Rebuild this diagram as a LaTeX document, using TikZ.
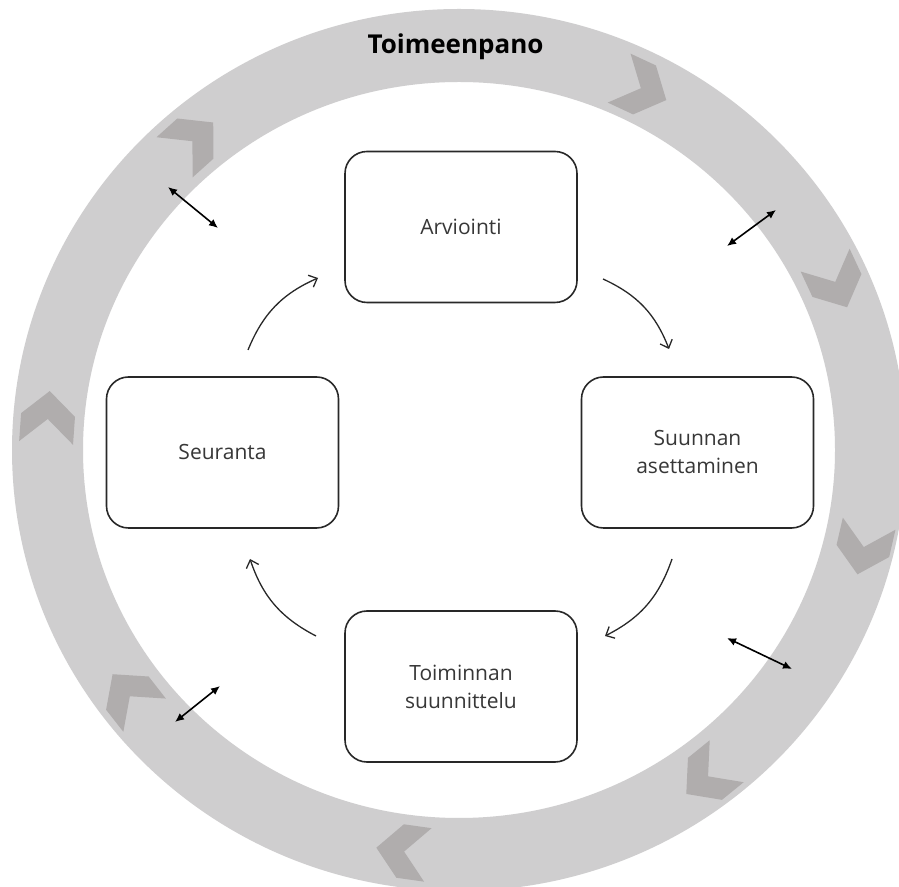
\documentclass[tikz,border=0pt]{standalone}
\usepackage{fontspec}
\setmainfont{Open Sans}
\usetikzlibrary{arrows.meta}
\definecolor{ringgray}{RGB}{207,206,207}
\definecolor{chevgray}{RGB}{176,173,173}
\definecolor{boxline}{RGB}{40,40,40}
\definecolor{txtgray}{RGB}{55,55,55}
\tikzset{
  stage/.style={draw=boxline, line width=1.6pt, rounded corners=22pt,
    minimum width=232pt, minimum height=151pt, align=center, text=txtgray,
    font=\fontsize{21}{28}\selectfont, fill=white},
  flow/.style={line width=1.3pt, draw=boxline,
    -{Straight Barb[length=7pt,width=13pt]}, bend left=22},
  link/.style={line width=1.6pt, draw=black,
    {Latex[length=9pt,width=8pt]}-{Latex[length=9pt,width=8pt]}},
  chevron/.pic={\fill[chevgray] (26,0) -- (2,27) -- (-26,27) -- (-2,0)
    -- (-26,-27) -- (2,-27) -- cycle;}
}
\begin{document}
\begin{tikzpicture}[x=1pt,y=1pt]
\useasboundingbox (0,0) rectangle (899,886);
\fill[white] (0,0) rectangle (899,886);
% ring
\begin{scope}
\clip (0,0) rectangle (899,886);
\fill[ringgray, even odd rule]
  (459,436) ellipse [x radius=447pt, y radius=441pt]
  (459,436) ellipse [x radius=376pt, y radius=368pt];
\pic[rotate=-25] at (642.7,796.9) {chevron};
\pic[rotate=-65] at (836.1,602.3) {chevron};
\pic[rotate=-103] at (863.3,337.0) {chevron};
\pic[rotate=-141] at (706.5,108.4) {chevron};
\pic[rotate=172] at (402.1,34.7) {chevron};
\pic[rotate=128] at (128.6,191.3) {chevron};
\pic[rotate=86] at (47.9,469) {chevron};
\pic[rotate=42] at (193.9,746.1) {chevron};
\end{scope}
\node[anchor=base, font=\bfseries\fontsize{26}{30}\selectfont] (title) at (455.5,832) {Toimeenpano};
% stages
\node[stage] (arv) at (461,659) {Arviointi};
\node[stage] (suu) at (697.5,433.5) {Suunnan\\asettaminen};
\node[stage] (seu) at (222.5,433.5) {Seuranta};
\node[stage] (toi) at (461,199.5) {Toiminnan\\suunnittelu};
% flow arrows
\coordinate (f1s) at (603,607); \coordinate (f1e) at (669,537);
\coordinate (f2s) at (672,327); \coordinate (f2e) at (605,250);
\coordinate (f3s) at (316,250); \coordinate (f3e) at (250,327);
\coordinate (f4s) at (248,536); \coordinate (f4e) at (318,608);
\draw[flow] (f1s) to (f1e);
\draw[flow] (f2s) to (f2e);
\draw[flow] (f3s) to (f3e);
\draw[flow] (f4s) to (f4e);
% links to ring
\coordinate (l1a) at (168,699); \coordinate (l1b) at (218,658);
\coordinate (l2a) at (727,640); \coordinate (l2b) at (776,676);
\coordinate (l3a) at (727,248); \coordinate (l3b) at (792,217);
\coordinate (l4a) at (175,164); \coordinate (l4b) at (220,200);
\draw[link] (l1a) -- (l1b);
\draw[link] (l2a) -- (l2b);
\draw[link] (l3a) -- (l3b);
\draw[link] (l4a) -- (l4b);
\end{tikzpicture}
\end{document}
